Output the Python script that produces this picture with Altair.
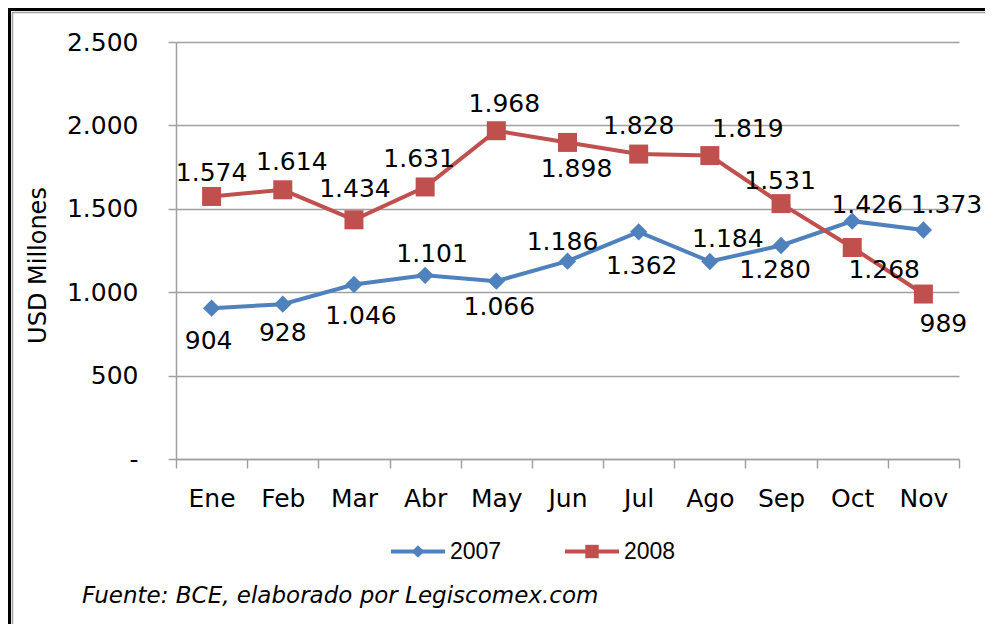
import altair as alt
import pandas as pd

# ---- data ----
months = ["Ene", "Feb", "Mar", "Abr", "May", "Jun", "Jul", "Ago", "Sep", "Oct", "Nov"]
series = ["2007", "2008"]
v2007 = [904, 928, 1046, 1101, 1066, 1186, 1362, 1184, 1280, 1426, 1373]
v2008 = [1574, 1614, 1434, 1631, 1968, 1898, 1828, 1819, 1531, 1268, 989]
y_ticks = [0, 500, 1000, 1500, 2000, 2500]
source_text = "Fuente: BCE, elaborado por Legiscomex.com"

# data-label offsets from the marker, in pixels (dx, dy), as placed in the reference
off2007 = [(-3, 31), (0, 27), (7, 29), (7, -23), (3, 24), (-5, -21), (3, 32), (18, -25), (-6, 23), (15, -18), (23, -27)]
off2008 = [(0, -25), (9, -30), (1, -33), (-6, -30), (8, -29), (9, 25), (0, -30), (38, -29), (-1, -25), (32, 21), (20, 28)]

colors = ["#4f81bd", "#c0504d"]
FONT = "DejaVu Sans"
GRAY = "#a0a0a0"

rows = []
for s, vals in [("2007", v2007), ("2008", v2008)]:
    for m, v in zip(months, vals):
        rows.append({"mes": m, "serie": s, "valor": v,
                     "etiqueta": f"{v:,}".replace(",", ".")})
df = pd.DataFrame(rows)

W, H = 783, 417

x = alt.X("mes:N", sort=months,
          scale=alt.Scale(type="band", paddingInner=0, paddingOuter=0),
          axis=alt.Axis(title=None, tickBand="extent", labelAngle=0,
                        labelFont=FONT, labelFontSize=25, labelColor="#000000",
                        labelPadding=18, tickSize=9, tickColor=GRAY,
                        domainColor=GRAY, domainWidth=1.5, tickWidth=1.5,
                        grid=False, labelBaseline="top"))
y = alt.Y("valor:Q",
          scale=alt.Scale(domain=[0, 2500], nice=False, zero=True),
          axis=alt.Axis(title="USD Millones", values=y_ticks,
                        labelExpr="datum.value == 0 ? '-' : replace(format(datum.value, ','), ',', '.')",
                        labelFont=FONT, labelFontSize=25, labelColor="#000000",
                        labelPadding=30, tickSize=8, tickColor=GRAY, tickWidth=1.5,
                        domainColor=GRAY, domainWidth=1.5,
                        grid=True, gridColor=GRAY, gridWidth=1.5,
                        titleFont=FONT, titleFontSize=24, titleFontWeight="normal",
                        titleColor="#000000", titleX=-131, titleY=223,
                        titleBaseline="alphabetic", titleAngle=-90))

color = alt.Color("serie:N", scale=alt.Scale(domain=series, range=colors), legend=None)

base = alt.Chart(df)

lines = base.mark_line(strokeWidth=4).encode(x=x, y=y, color=color)
points = base.mark_point(filled=True, opacity=1).encode(
    x=x, y=y, color=color,
    shape=alt.Shape("serie:N", scale=alt.Scale(domain=series, range=["diamond", "square"]), legend=None),
    size=alt.Size("serie:N", scale=alt.Scale(domain=series, range=[300, 361]), legend=None),
)

labels = []
for s, offs in [("2007", off2007), ("2008", off2008)]:
    for m, (dx, dy) in zip(months, offs):
        labels.append(
            base.transform_filter((alt.datum.serie == s) & (alt.datum.mes == m)).mark_text(
                font=FONT, fontSize=25, color="#000000", dx=dx, dy=dy + 2,
                baseline="middle", align="center"
            ).encode(x=x, y=y, text="etiqueta:N")
        )

# frame around the whole chart
one = pd.DataFrame({"k": [0]})
frame = alt.Chart(one).mark_rect(fill=None, stroke="#000000", strokeWidth=3).encode(
    x=alt.value(-166.5), x2=alt.value(900), y=alt.value(-32.5), y2=alt.value(700))
frame2 = alt.Chart(one).mark_rect(fill=None, stroke=GRAY, strokeWidth=1.5).encode(
    x=alt.value(-163.5), x2=alt.value(900), y=alt.value(-29.5), y2=alt.value(700))

# legend (line + marker + text)
legend_layers = []
leg_y = 551.5 - 42
leg_x = [391 - 176, 565 - 176]
for s, c, shp, sz, lx in zip(series, colors, ["diamond", "square"], [160, 180], leg_x):
    d = pd.DataFrame({"serie": [s]})
    legend_layers.append(alt.Chart(d).mark_rule(color=c, strokeWidth=4).encode(
        x=alt.value(lx), x2=alt.value(lx + 54), y=alt.value(leg_y)))
    legend_layers.append(alt.Chart(d).mark_point(filled=True, opacity=1, color=c, shape=shp, size=sz).encode(
        x=alt.value(lx + 27), y=alt.value(leg_y)))
    legend_layers.append(alt.Chart(d).mark_text(font="Liberation Sans", fontSize=23, color="#000000",
                                                align="left", baseline="middle").encode(
        x=alt.value(lx + 59), y=alt.value(leg_y), text="serie:N"))

source = alt.Chart(pd.DataFrame({"t": [source_text]})).mark_text(
    font=FONT, fontSize=23, fontStyle="italic", color="#000000", align="left", baseline="middle"
).encode(x=alt.value(82 - 176), y=alt.value(596 - 42), text="t:N")

chart = alt.layer(frame, frame2, lines, points, *labels, *legend_layers, source).properties(
    width=W, height=H,
    autosize=alt.AutoSizeParams(type="none"),
    padding={"left": 168, "top": 34, "right": 26, "bottom": 165},
    background="#ffffff",
).configure_view(stroke=None)

chart.save("out.html", embed_options={"renderer": "svg", "actions": False})
